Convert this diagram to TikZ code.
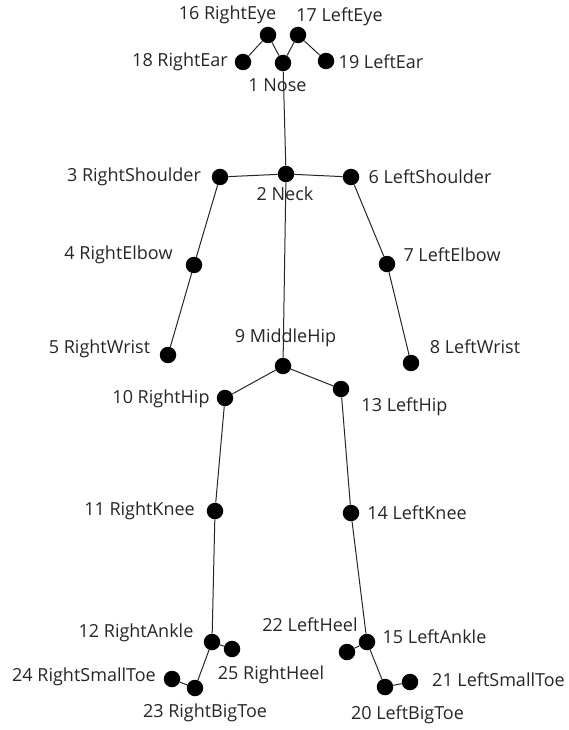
\documentclass[tikz,border=0pt]{standalone}
\usepackage{fontspec}
\setmainfont{Open Sans}
\usetikzlibrary{positioning}

\begin{document}
\begin{tikzpicture}[x=1pt, y=-1pt,
    joint/.style={circle, fill=black, inner sep=0pt, minimum size=16.5pt},
    lbl/.style={text=black!85, font=\fontsize{18}{20}\selectfont, inner sep=0pt},
    bone/.style={draw=black!85, line width=1pt}]
    \useasboundingbox (0,0) rectangle (568,730);
    % joints
    \node[joint] (nose) at (283,63) {};
    \node[joint] (neck) at (286,174) {};
    \node[joint] (rsho) at (220,177) {};
    \node[joint] (relb) at (194,265) {};
    \node[joint] (rwri) at (168,355) {};
    \node[joint] (lsho) at (351,177) {};
    \node[joint] (lelb) at (387,264) {};
    \node[joint] (lwri) at (411,363) {};
    \node[joint] (mhip) at (283,366) {};
    \node[joint] (rhip) at (225,398) {};
    \node[joint] (rkne) at (215,511) {};
    \node[joint] (rank) at (212,642) {};
    \node[joint] (lhip) at (341,389) {};
    \node[joint] (lkne) at (351,513) {};
    \node[joint] (lank) at (367,642) {};
    \node[joint] (reye) at (268,35) {};
    \node[joint] (leye) at (298,35) {};
    \node[joint] (rear) at (243,62) {};
    \node[joint] (lear) at (326,61) {};
    \node[joint] (lbig) at (385,687) {};
    \node[joint] (lsml) at (410,682) {};
    \node[joint] (lhee) at (347,652) {};
    \node[joint] (rbig) at (195,688) {};
    \node[joint] (rsml) at (172,679) {};
    \node[joint] (rhee) at (232,649) {};
    % labels
    \node[lbl] (l1) at (277.5,85) {1 Nose};
    \node[lbl] (l2) at (285,194) {2 Neck};
    \node[lbl] (l3) at (134,177) {3 RightShoulder};
    \node[lbl] (l4) at (118.5,255) {4 RightElbow};
    \node[lbl] (l5) at (99.5,349) {5 RightWrist};
    \node[lbl] (l6) at (430,177) {6 LeftShoulder};
    \node[lbl] (l7) at (452,255) {7 LeftElbow};
    \node[lbl] (l8) at (475,347) {8 LeftWrist};
    \node[lbl] (l9) at (285.5,338) {9 MiddleHip};
    \node[lbl] (l10) at (161,399) {10 RightHip};
    \node[lbl] (l11) at (139.5,511) {11 RightKnee};
    \node[lbl] (l12) at (136,633) {12 RightAnkle};
    \node[lbl] (l13) at (404.5,407) {13 LeftHip};
    \node[lbl] (l14) at (417,513) {14 LeftKnee};
    \node[lbl] (l15) at (434.5,637) {15 LeftAnkle};
    \node[lbl] (l16) at (227.5,15) {16 RightEye};
    \node[lbl] (l17) at (339.5,17) {17 LeftEye};
    \node[lbl] (l18) at (180,62) {18 RightEar};
    \node[lbl] (l19) at (381,62) {19 LeftEar};
    \node[lbl] (l20) at (407.5,715) {20 LeftBigToe};
    \node[lbl] (l21) at (498.5,680) {21 LeftSmallToe};
    \node[lbl] (l22) at (310,625) {22 LeftHeel};
    \node[lbl] (l23) at (205,713) {23 RightBigToe};
    \node[lbl] (l24) at (84,677) {24 RightSmallToe};
    \node[lbl] (l25) at (271,675) {25 RightHeel};
    % bones
    \draw[bone] (nose) -- (neck);
    \draw[bone] (nose) -- (reye) -- (rear);
    \draw[bone] (nose) -- (leye) -- (lear);
    \draw[bone] (neck) -- (rsho) -- (relb) -- (rwri);
    \draw[bone] (neck) -- (lsho) -- (lelb) -- (lwri);
    \draw[bone] (neck) -- (mhip);
    \draw[bone] (mhip) -- (rhip) -- (rkne) -- (rank);
    \draw[bone] (mhip) -- (lhip) -- (lkne) -- (lank);
    \draw[bone] (rank) -- (rbig) -- (rsml);
    \draw[bone] (rank) -- (rhee);
    \draw[bone] (lank) -- (lbig) -- (lsml);
    \draw[bone] (lank) -- (lhee);
\end{tikzpicture}
\end{document}
